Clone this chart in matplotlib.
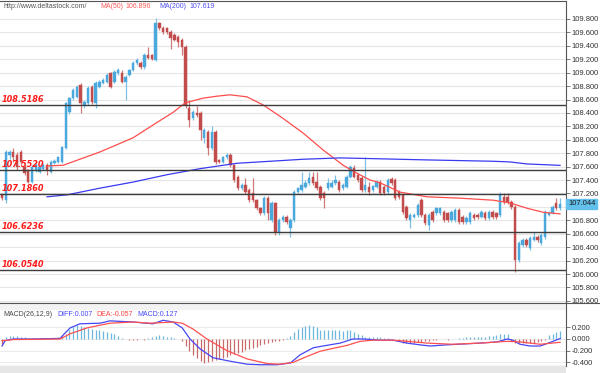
import numpy as np
import matplotlib
matplotlib.use("Agg")
import matplotlib.pyplot as plt
from matplotlib.patches import Rectangle
from matplotlib.lines import Line2D
from matplotlib.ticker import FuncFormatter

plt.rcParams['font.family'] = ['Liberation Sans', 'DejaVu Sans']

# ---------------- data ----------------
opens = [107.18, 107.10, 107.77, 107.82, 107.77, 107.82, 107.59, 107.55, 107.37, 107.55,
         107.52, 107.57, 107.62, 107.52, 107.66, 107.67, 107.67, 107.88, 108.41, 108.62,
         108.64, 108.82, 108.52, 108.55, 108.79, 108.55, 108.79, 108.85, 108.86, 108.99,
         108.86, 108.99, 108.99, 108.86, 108.97, 109.04, 109.14, 109.14, 109.08, 109.26,
         109.26, 109.19, 109.74, 109.67, 109.66, 109.61, 109.56, 109.53, 109.49, 109.38,
         108.47, 108.32, 108.40, 108.40, 108.03, 108.12, 107.88, 108.12, 107.70, 107.67,
         107.74, 107.77, 107.62, 107.45, 107.28, 107.33, 107.25, 107.21, 107.10, 106.98,
         106.91, 107.13, 106.80, 107.06, 106.62, 106.80, 106.85, 106.68, 106.80, 107.22,
         107.25, 107.30, 107.36, 107.45, 107.37, 107.30, 107.21, 107.28, 107.30, 107.36,
         107.37, 107.28, 107.30, 107.45, 107.58, 107.48, 107.43, 107.25, 107.30, 107.25,
         107.30, 107.37, 107.30, 107.22, 107.42, 107.40, 107.22, 107.18, 107.00, 106.80,
         106.85, 106.88, 107.10, 106.88, 106.73, 106.92, 106.91, 106.91, 106.92, 106.91,
         106.80, 106.80, 106.95, 106.85, 106.77, 106.77, 106.88, 106.88, 106.85, 106.91,
         106.83, 106.92, 106.91, 106.88, 107.15, 107.15, 107.07, 107.00, 106.21, 106.43,
         106.51, 106.39, 106.51, 106.55, 106.46, 106.55, 106.88, 106.91, 107.06, 106.98]
highs = [107.21, 107.85, 107.85, 107.88, 107.82, 107.85, 107.62, 107.57, 107.62, 107.65,
         107.62, 107.65, 107.65, 107.70, 107.72, 107.76, 107.91, 108.57, 108.64, 108.77,
         108.82, 108.85, 108.60, 108.80, 108.82, 108.88, 108.89, 108.92, 109.00, 109.01,
         109.04, 109.07, 109.04, 108.97, 109.06, 109.18, 109.22, 109.18, 109.30, 109.38,
         109.28, 109.815, 109.76, 109.70, 109.68, 109.63, 109.59, 109.56, 109.52, 109.41,
         108.59, 108.44, 108.50, 108.43, 108.17, 108.15, 108.20, 108.15, 107.72, 107.76,
         107.80, 107.80, 107.64, 107.48, 107.36, 107.43, 107.28, 107.43, 107.12, 107.00,
         107.16, 107.16, 107.09, 107.08, 106.83, 106.88, 106.88, 106.83, 107.25, 107.30,
         107.52, 107.40, 107.52, 107.52, 107.52, 107.33, 107.24, 107.43, 107.40, 107.48,
         107.40, 107.36, 107.48, 107.62, 107.62, 107.50, 107.46, 107.74, 107.37, 107.33,
         107.40, 107.40, 107.33, 107.43, 107.45, 107.43, 107.25, 107.21, 107.03, 106.91,
         106.91, 107.06, 107.13, 106.91, 106.91, 106.95, 107.00, 107.00, 106.95, 106.93,
         106.95, 106.98, 106.98, 106.88, 106.86, 106.94, 106.91, 106.91, 106.95, 106.94,
         106.95, 106.95, 106.93, 107.22, 107.21, 107.21, 107.10, 107.03, 106.49, 106.54,
         106.54, 106.57, 106.62, 106.58, 106.61, 106.95, 106.94, 107.03, 107.13, 107.13]
lows = [107.10, 107.06, 107.72, 107.67, 107.55, 107.62, 107.48, 107.35, 107.35, 107.52,
        107.50, 107.55, 107.48, 107.50, 107.64, 107.65, 107.66, 107.86, 108.38, 108.60,
        108.62, 108.40, 108.47, 108.52, 108.53, 108.47, 108.77, 108.83, 108.84, 108.77,
        108.84, 108.97, 108.84, 108.59, 108.95, 109.02, 109.12, 109.05, 109.05, 109.20,
        109.19, 109.17, 109.64, 109.58, 109.57, 109.36, 109.47, 109.38, 109.26, 108.47,
        108.19, 108.30, 108.34, 108.00, 107.95, 107.77, 107.85, 107.64, 107.65, 107.65,
        107.72, 107.59, 107.37, 107.25, 107.25, 107.19, 107.07, 107.07, 106.95, 106.88,
        106.88, 106.80, 106.77, 106.58, 106.58, 106.77, 106.74, 106.55, 106.77, 107.20,
        107.22, 107.28, 107.33, 107.33, 107.25, 107.10, 106.98, 107.25, 107.28, 107.33,
        107.22, 107.25, 107.28, 107.43, 107.43, 107.37, 107.22, 107.22, 107.18, 107.22,
        107.28, 107.18, 107.18, 107.19, 107.33, 107.10, 107.12, 106.89, 106.80, 106.68,
        106.83, 106.85, 106.85, 106.73, 106.66, 106.77, 106.88, 106.88, 106.77, 106.78,
        106.77, 106.77, 106.74, 106.74, 106.74, 106.74, 106.80, 106.82, 106.83, 106.80,
        106.80, 106.82, 106.82, 106.85, 107.04, 107.04, 106.97, 106.03, 106.18, 106.40,
        106.40, 106.36, 106.49, 106.48, 106.43, 106.52, 106.86, 106.89, 106.95, 106.96]
closes = [107.13, 107.82, 107.82, 107.74, 107.59, 107.67, 107.50, 107.37, 107.59, 107.62,
          107.59, 107.62, 107.55, 107.67, 107.69, 107.74, 107.89, 108.55, 108.62, 108.74,
          108.79, 108.55, 108.56, 108.77, 108.56, 108.85, 108.86, 108.89, 108.97, 108.79,
          109.01, 109.04, 108.86, 108.94, 109.04, 109.14, 109.19, 109.08, 109.26, 109.22,
          109.21, 109.74, 109.67, 109.61, 109.60, 109.52, 109.49, 109.46, 109.38, 108.52,
          108.30, 108.41, 108.37, 108.15, 108.15, 107.88, 108.12, 107.67, 107.67, 107.74,
          107.77, 107.62, 107.40, 107.28, 107.33, 107.22, 107.10, 107.10, 106.98, 106.91,
          107.13, 106.91, 107.06, 106.62, 106.80, 106.85, 106.77, 106.80, 107.22, 107.28,
          107.33, 107.36, 107.43, 107.36, 107.28, 107.13, 107.13, 107.36, 107.36, 107.40,
          107.25, 107.33, 107.45, 107.59, 107.45, 107.40, 107.25, 107.33, 107.22, 107.31,
          107.37, 107.21, 107.21, 107.40, 107.36, 107.13, 107.15, 106.92, 106.83, 106.88,
          106.88, 107.03, 106.88, 106.76, 106.88, 106.80, 106.98, 106.98, 106.80, 106.80,
          106.92, 106.95, 106.77, 106.77, 106.83, 106.91, 106.83, 106.85, 106.92, 106.83,
          106.92, 106.85, 106.85, 107.18, 107.07, 107.07, 107.00, 106.21, 106.46, 106.51,
          106.43, 106.54, 106.55, 106.51, 106.58, 106.92, 106.91, 107.00, 106.98, 107.044]

# moving averages (bar index, value)
ma50_idx = [12.0, 16.3, 26.2, 35.0, 40.3, 45.7, 48.9, 53.7, 57.4, 60.9, 65.4, 69.7, 75.0,
            80.4, 85.7, 91.1, 94.8, 98.3, 100.9, 106.3, 113.5, 122.3, 131.1, 135.6, 140.2,
            144.5, 149.0]
ma50_val = [107.61, 107.62, 107.82, 108.03, 108.22, 108.41, 108.55, 108.62, 108.65, 108.67,
            108.64, 108.52, 108.32, 108.10, 107.85, 107.62, 107.50, 107.40, 107.36, 107.22,
            107.15, 107.13, 107.10, 107.06, 106.98, 106.92, 106.896]
ma200_idx = [12.0, 17.4, 26.2, 35.0, 44.1, 52.9, 62.7, 71.6, 80.4, 90.3, 98.3, 113.5, 131.1,
             135.6, 140.2, 149.0]
ma200_val = [107.15, 107.18, 107.28, 107.37, 107.48, 107.57, 107.65, 107.68, 107.71, 107.73,
             107.72, 107.70, 107.68, 107.67, 107.64, 107.619]

levels = [108.5186, 107.5520, 107.1860, 106.6236, 106.0540]
level_labels = ["108.5186", "107.5520", "107.1860", "106.6236", "106.0540"]

# MACD (bar index, value)
diff_idx = [0, 0.8, 3, 8.3, 15.5, 16.8, 18.2, 20.8, 26.2, 28.8, 35, 40.3, 43, 45.7, 48.1,
            50.2, 52.9, 56.3, 60.9, 65.4, 68.9, 73.4, 77, 79.6, 83.1, 85.7, 90.3, 93.7, 96.4,
            100.9, 104.4, 108.1, 111.6, 114.3, 118.8, 127.6, 132.2, 134.9, 136.4, 138.3, 141,
            143.7, 146.3, 149]
diff_val = [-0.12, -0.03, 0.0, 0.0, 0.01, 0.10, 0.19, 0.26, 0.27, 0.31, 0.29, 0.26, 0.32,
            0.29, 0.19, 0.0, -0.17, -0.32, -0.38, -0.43, -0.44, -0.44, -0.41, -0.27, -0.15,
            -0.12, -0.07, 0.0, 0.0, -0.02, -0.02, -0.07, -0.10, -0.12, -0.10, -0.07, -0.05,
            0.0, -0.02, -0.09, -0.12, -0.12, -0.06, 0.007]
dea_idx = [0, 3, 15.5, 18.2, 22.7, 28.8, 35, 39.5, 45.7, 48.1, 51, 54.7, 60.1, 65.4, 70.8,
           74.2, 77.7, 81.4, 84.9, 88.4, 92.1, 95.6, 99.1, 104.4, 108.1, 113.5, 120.4, 127.6,
           134.9, 138.3, 143.7, 149]
dea_val = [-0.03, -0.01, 0.0, 0.09, 0.19, 0.27, 0.29, 0.27, 0.29, 0.27, 0.17, 0.0, -0.20,
           -0.34, -0.42, -0.43, -0.40, -0.30, -0.21, -0.16, -0.11, -0.04, -0.02, -0.02, -0.04,
           -0.07, -0.09, -0.07, -0.04, -0.05, -0.09, -0.057]
macd_hist = [-0.08, 0.04, 0.05, 0.05, 0.05, 0.04, 0.03, 0.02, 0.01, 0.02,
             0.02, 0.02, 0.02, 0.02, 0.02, 0.03, 0.05, 0.08, 0.15, 0.21,
             0.24, 0.23, 0.20, 0.18, 0.17, 0.16, 0.15, 0.14, 0.12, 0.10,
             0.08, 0.05, 0.02, 0.0, -0.01, -0.01, -0.01, 0.0, -0.01, 0.02,
             0.04, 0.05, 0.06, 0.05, 0.04, 0.03, 0.02, 0.0, -0.03, -0.12,
             -0.20, -0.28, -0.33, -0.38, -0.41, -0.40, -0.38, -0.36, -0.35, -0.33,
             -0.30, -0.28, -0.26, -0.24, -0.22, -0.19, -0.17, -0.15, -0.13, -0.11,
             -0.09, -0.07, -0.05, -0.04, -0.03, -0.02, 0.01, 0.05, 0.12, 0.17,
             0.21, 0.22, 0.24, 0.23, 0.20, 0.16, 0.16, 0.16, 0.16, 0.16,
             0.15, 0.14, 0.16, 0.16, 0.12, 0.08, 0.06, 0.03, 0.03, 0.03,
             0.03, 0.03, 0.02, 0.02, 0.0, 0.0, -0.03, -0.06, -0.07, -0.07,
             -0.06, -0.05, -0.05, -0.04, -0.03, -0.01, -0.01, 0.0, 0.0, -0.01,
             0.0, 0.0, 0.02, 0.02, 0.03, 0.03, 0.03, 0.03, 0.04, 0.04,
             0.05, 0.05, 0.06, 0.09, 0.09, 0.08, -0.03, -0.06, -0.07, -0.07,
             -0.07, -0.07, -0.06, -0.05, -0.04, -0.02, 0.06, 0.09, 0.12, 0.13]

header_site = "http://www.deltastock.com/"
macd_header = ["MACD(26,12,9)", "DIFF:0.007", "DEA:-0.057", "MACD:0.127"]
last_price = closes[-1]

# ---------------- figure ----------------
W, H = 600, 373
fig = plt.figure(figsize=(6.0, 3.73), dpi=100)
fig.patch.set_facecolor('white')

def fx(x):
    return x / W

def fy(y):
    return 1 - y / H

BLUE = '#4aa8dc'
RED = '#c24b4b'
BLUE_W = '#7cc0e6'
RED_W = '#cf7a7a'
TICK_FS = 5.5

ax = fig.add_axes([0, fy(303), fx(566), (303 - 1) / H])
axm = fig.add_axes([0, fy(366), fx(566), (366 - 303) / H])

n = len(closes)
xs = np.arange(n)
o = np.array(opens); c = np.array(closes); h = np.array(highs); l = np.array(lows)
up = c >= o

# grid
ticks_main = np.round(np.arange(105.6, 109.81, 0.2), 1)
for t in ticks_main:
    ax.axhline(t, color='#e6e6e6', lw=0.8, zorder=0)

# wicks
ax.vlines(xs[up], l[up], h[up], color=BLUE_W, lw=0.9, zorder=2)
ax.vlines(xs[~up], l[~up], h[~up], color=RED_W, lw=0.9, zorder=2)
# bodies
bot = np.minimum(o, c)
hgt = np.maximum(np.abs(c - o), 0.012)
ax.bar(xs[up], hgt[up], bottom=bot[up], width=0.64, color=BLUE, edgecolor=BLUE,
       lw=0.3, zorder=3)
ax.bar(xs[~up], hgt[~up], bottom=bot[~up], width=0.64, color=RED, edgecolor=RED,
       lw=0.3, zorder=3)

# moving averages
ax.plot(ma50_idx, ma50_val, color='#ff4d4d', lw=0.9, zorder=4)
ax.plot(ma200_idx, ma200_val, color='#3a3af0', lw=0.9, zorder=4)

# levels
for lv, lab in zip(levels, level_labels):
    ax.axhline(lv, color='#3c3c3c', lw=1.0, zorder=5)
    ax.annotate(lab, xy=(0, lv), xycoords=('axes fraction', 'data'),
                xytext=(2, 3), textcoords='offset pixels', ha='left', va='baseline',
                fontsize=5.9, fontweight='bold', fontstyle='italic', color='#ff1a1a',
                family='DejaVu Sans', zorder=6)

def main_fmt(v, pos):
    if abs(v - 107.0) < 1e-6:
        return ''
    return f"{v:.3f}"

ax.set_xlim(-0.55, 150.6)
ax.set_ylim(105.568, 110.068)
ax.yaxis.tick_right()
ax.set_yticks(ticks_main)
ax.yaxis.set_major_formatter(FuncFormatter(main_fmt))
ax.tick_params(axis='y', labelsize=TICK_FS, length=3, width=0.6, color='#666',
               labelcolor='#333', pad=1.2)
ax.set_xticks([])
for s in ax.spines.values():
    s.set_color('#555')
    s.set_linewidth(0.8)
ax.spines['left'].set_visible(False)

# last price box
ax.annotate(f"{last_price:.3f}", xy=(1, last_price), xycoords=('axes fraction', 'data'),
            xytext=(2, 0), textcoords='offset pixels', ha='left', va='center',
            fontsize=TICK_FS, color='#1a1a1a', annotation_clip=False, zorder=10,
            bbox=dict(boxstyle='square,pad=0.25', fc='#62c0ec', ec='#62c0ec'))

# ---------------- MACD ----------------
ticks_m = [-0.4, -0.2, 0.0, 0.2]
for t in ticks_m:
    axm.axhline(t, color='#ececec', lw=0.8, zorder=0)
axm.add_patch(Rectangle((0, 0.52), 1, 0.2, transform=axm.get_yaxis_transform(),
                        color='#f3f3f3', zorder=0))
hist = np.array(macd_hist)
pos = hist >= 0
axm.vlines(xs[pos], 0, hist[pos], color='#6db6de', lw=0.9, zorder=2)
axm.vlines(xs[~pos], 0, hist[~pos], color='#c86a6a', lw=0.9, zorder=2)
axm.plot(diff_idx, diff_val, color='#4646f5', lw=0.9, zorder=3)
axm.plot(dea_idx, dea_val, color='#ff5050', lw=0.9, zorder=3)
axm.set_xlim(-0.55, 150.6)
axm.set_ylim(-0.4615, 0.615)
axm.yaxis.tick_right()
axm.set_yticks(ticks_m)
axm.yaxis.set_major_formatter(FuncFormatter(lambda v, p: f"{v:.3f}"))
axm.tick_params(axis='y', labelsize=TICK_FS, length=3, width=0.6, color='#666',
                labelcolor='#333', pad=1.2)
axm.set_xticks([])
for s in axm.spines.values():
    s.set_color('#555')
    s.set_linewidth(0.8)
axm.spines['left'].set_visible(False)

# separator continuing into the price-scale column, bottom strip
fig.add_artist(Line2D([fx(566), 1], [fy(303), fy(303)], transform=fig.transFigure,
                      color='#555', lw=0.8))
fig.patches.append(Rectangle((0, 0), fx(566), (373 - 366) / H, transform=fig.transFigure,
                             fc='#e6e6e6', ec='none', zorder=0))

# header texts
fs = 5.0
fig.text(fx(3), fy(6), header_site, fontsize=fs, color='#555', va='center', ha='left')
fig.text(fx(100), fy(6), "MA(50)", fontsize=fs, color='#ff5a5a', va='center', ha='left')
fig.text(fx(125), fy(6), f"{ma50_val[-1]:.3f}", fontsize=fs, color='#ff5a5a', va='center', ha='left')
fig.text(fx(159), fy(6), "MA(200)", fontsize=fs, color='#5050f0', va='center', ha='left')
fig.text(fx(189), fy(6), f"{ma200_val[-1]:.3f}", fontsize=fs, color='#5050f0', va='center', ha='left')

mx = [3, 57, 96, 137]
mcol = ['#444', '#4646f5', '#ff4040', '#4646f5']
for xpos, txt, col in zip(mx, macd_header, mcol):
    fig.text(fx(xpos), fy(315), txt, fontsize=fs, color=col, va='center', ha='left')

fig.savefig('out.png', dpi=100)
